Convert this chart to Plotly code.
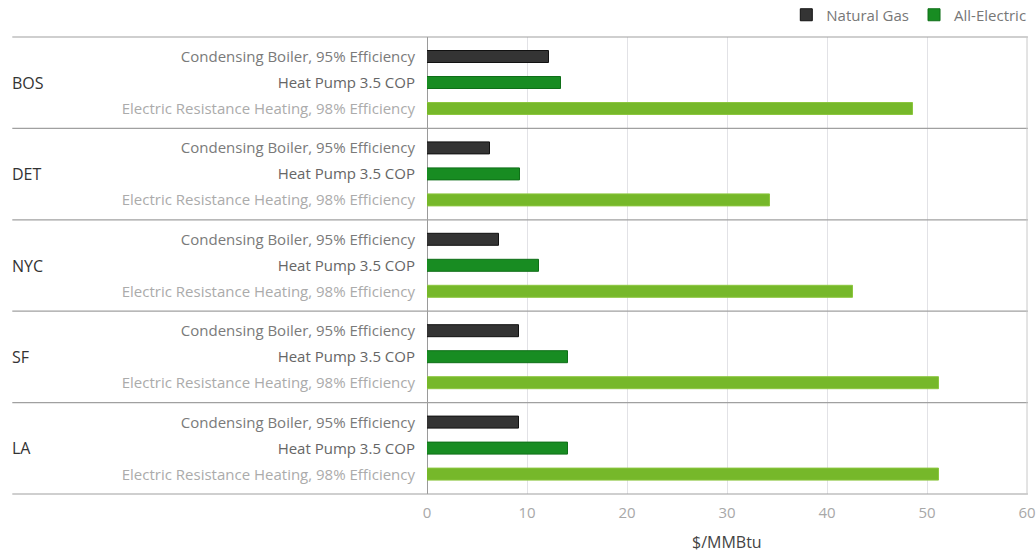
import plotly.graph_objects as go
from plotly.subplots import make_subplots

cities = ["BOS", "DET", "NYC", "SF", "LA"]
techs = ["Condensing Boiler, 95% Efficiency", "Heat Pump 3.5 COP",
         "Electric Resistance Heating, 98% Efficiency"]
boiler = [12.2, 6.3, 7.2, 9.2, 9.2]
heat_pump = [13.4, 9.3, 11.2, 14.1, 14.1]
resistance = [48.6, 34.3, 42.6, 51.2, 51.2]
x_ticks = [0, 10, 20, 30, 40, 50, 60]
legend_names = ["Natural Gas", "All-Electric"]
x_title = "$/MMBtu"

FONT = "Open Sans"
bar_colors = ["#343434", "#188c22", "#76b82a"]
line_colors = ["#111111", "#0f6f18", "#8cc63f"]
label_colors = ["#7a7a7a", "#666666", "#ababab"]

W, H = 1036, 553
ml, mr, mt, mb = 426.7, 9.3, 37, 59
plot_w = W - ml - mr
plot_h = H - mt - mb

fig = make_subplots(rows=len(cities), cols=1, shared_xaxes=True, vertical_spacing=0)

series = [boiler, heat_pump, resistance]
for i, city in enumerate(cities):
    for k in range(3):
        show = (i == 0 and k < 2)
        fig.add_trace(go.Bar(
            x=[series[k][i]], y=[techs[k]], orientation="h",
            marker=dict(color=bar_colors[k], line=dict(color=line_colors[k], width=1)),
            width=0.46,
            name=legend_names[k] if k < 2 else "Electric Resistance",
            showlegend=show, legendgroup=str(k),
            hovertemplate=city + " %{y}: %{x}<extra></extra>",
        ), row=i + 1, col=1)

ticktext = [f'<span style="color:{label_colors[k]}">{t}</span>' for k, t in enumerate(techs)]
for i in range(len(cities)):
    fig.update_yaxes(type="category", categoryorder="array", categoryarray=techs,
                     range=[2.758, -0.758], tickvals=techs, ticktext=ticktext,
                     tickfont=dict(family=FONT, size=15, color="#777"),
                     ticklabelstandoff=11, ticks="", showgrid=False, zeroline=False,
                     showline=False, row=i + 1, col=1)
    fig.update_xaxes(range=[0, 60], tickvals=x_ticks, showgrid=True, gridcolor="#e2e2e6",
                     gridwidth=1, zeroline=True, zerolinecolor="#9a9a9a", zerolinewidth=1,
                     showline=False, ticks="", row=i + 1, col=1)

fig.update_xaxes(tickfont=dict(family=FONT, size=15, color="#a8a8a8"),
                 ticklabelstandoff=8,
                 row=len(cities), col=1)

# x-axis title
fig.add_annotation(text=x_title, xref="paper", yref="paper", x=0.5,
                   y=-(541.5 - (mt + plot_h)) / plot_h, xanchor="center", yanchor="middle",
                   showarrow=False, font=dict(family=FONT, size=16, color="#444"))

# group separators and right border
x_left = (12 - ml) / plot_w
for j in range(len(cities) + 1):
    yp = 1 - j / len(cities)
    fig.add_shape(type="line", xref="paper", yref="paper", x0=x_left, x1=1.0015,
                  y0=yp, y1=yp, line=dict(color="#a0a0a0", width=1.2), layer="above")
fig.add_shape(type="line", xref="paper", yref="paper", x0=1, x1=1, y0=0, y1=1,
              line=dict(color="#c8c8c8", width=1))

# city labels
for i, city in enumerate(cities):
    yc = 1 - (i + 0.5) / len(cities)
    fig.add_annotation(text=city, xref="paper", yref="paper", x=(10 - ml) / plot_w, y=yc,
                       xanchor="left", yanchor="middle", showarrow=False,
                       font=dict(family=FONT, size=16, color="#333"))

fig.update_layout(
    width=W, height=H,
    margin=dict(l=ml, r=mr, t=mt, b=mb, pad=0, autoexpand=False),
    paper_bgcolor="white", plot_bgcolor="white",
    barmode="overlay", bargap=0,
    showlegend=True,
    legend=dict(orientation="h", x=(786 - ml) / plot_w, y=1 + (37 - 15) / plot_h,
                xanchor="left", yanchor="middle",
                font=dict(family=FONT, size=15, color="#777"),
                tracegroupgap=0, bgcolor="rgba(0,0,0,0)"),
    font=dict(family=FONT),
)

fig.write_html("out.html")
